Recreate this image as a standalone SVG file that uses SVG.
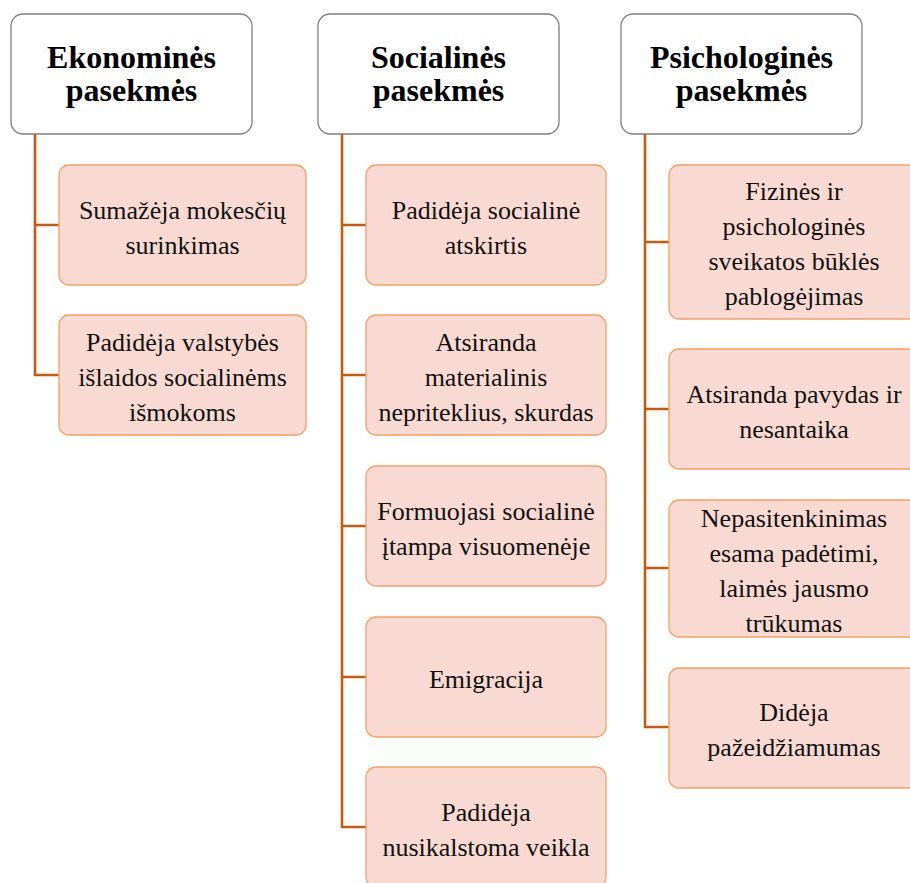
<svg xmlns="http://www.w3.org/2000/svg" width="910" height="883" viewBox="0 0 910 883">
<style>
.hdr{fill:#ffffff;stroke:#7f7f7f;stroke-width:1.3}
.ch{fill:#f8dad2;stroke:#f2a066;stroke-width:1.3}
.ht{font-family:'Liberation Serif','DejaVu Serif',serif;font-weight:bold;font-size:32px;fill:#000;text-anchor:middle}
.ct{font-family:'Liberation Serif','DejaVu Serif',serif;font-size:26px;fill:#111;text-anchor:middle}
.cn{fill:none;stroke:#c55a11;stroke-width:2.6}
</style>
<rect width="910" height="883" fill="#ffffff"/>
<g id="connectors">
<path class="cn" d="M35 134V375H59M35 225H59"/>
<path class="cn" d="M342 134V827H366M342 225H366M342 375H366M342 526H366M342 677H366"/>
<path class="cn" d="M645 134V727H669M645 242H669M645 409H669M645 568H669"/>
</g>
<g id="h1"><rect class="hdr" x="11" y="14" width="241" height="120" rx="12"/><text class="ht" x="131.5" y="68">Ekonominės</text><text class="ht" x="131.5" y="101">pasekmės</text></g>
<g id="h2"><rect class="hdr" x="318" y="14" width="241" height="120" rx="12"/><text class="ht" x="438.5" y="68">Socialinės</text><text class="ht" x="438.5" y="101">pasekmės</text></g>
<g id="h3"><rect class="hdr" x="621" y="14" width="241" height="120" rx="12"/><text class="ht" x="741.5" y="68">Psichologinės</text><text class="ht" x="741.5" y="101">pasekmės</text></g>
<g id="e1"><rect class="ch" x="59" y="165" width="247" height="120" rx="10"/><text class="ct" x="182.5" y="218.5">Sumažėja mokesčių</text><text class="ct" x="182.5" y="253.5">surinkimas</text></g>
<g id="e2"><rect class="ch" x="59" y="315" width="247" height="120" rx="10"/><text class="ct" x="182.5" y="351">Padidėja valstybės</text><text class="ct" x="182.5" y="386">išlaidos socialinėms</text><text class="ct" x="182.5" y="421">išmokoms</text></g>
<g id="s1"><rect class="ch" x="366" y="165" width="240" height="120" rx="10"/><text class="ct" x="486" y="218.5">Padidėja socialinė</text><text class="ct" x="486" y="253.5">atskirtis</text></g>
<g id="s2"><rect class="ch" x="366" y="315" width="240" height="120" rx="10"/><text class="ct" x="486" y="351">Atsiranda</text><text class="ct" x="486" y="386">materialinis</text><text class="ct" x="486" y="421">nepriteklius, skurdas</text></g>
<g id="s3"><rect class="ch" x="366" y="466" width="240" height="120" rx="10"/><text class="ct" x="486" y="519.5">Formuojasi socialinė</text><text class="ct" x="486" y="554.5">įtampa visuomenėje</text></g>
<g id="s4"><rect class="ch" x="366" y="617" width="240" height="120" rx="10"/><text class="ct" x="486" y="688">Emigracija</text></g>
<g id="s5"><rect class="ch" x="366" y="767" width="240" height="120" rx="10"/><text class="ct" x="486" y="821">Padidėja</text><text class="ct" x="486" y="856">nusikalstoma veikla</text></g>
<g id="p1"><rect class="ch" x="669" y="165" width="250" height="154" rx="10"/><text class="ct" x="794" y="200">Fizinės ir</text><text class="ct" x="794" y="235">psichologinės</text><text class="ct" x="794" y="270">sveikatos būklės</text><text class="ct" x="794" y="305">pablogėjimas</text></g>
<g id="p2"><rect class="ch" x="669" y="349" width="250" height="120" rx="10"/><text class="ct" x="794" y="402.5">Atsiranda pavydas ir</text><text class="ct" x="794" y="437.5">nesantaika</text></g>
<g id="p3"><rect class="ch" x="669" y="500" width="250" height="137" rx="10"/><text class="ct" x="794" y="527">Nepasitenkinimas</text><text class="ct" x="794" y="562">esama padėtimi,</text><text class="ct" x="794" y="597">laimės jausmo</text><text class="ct" x="794" y="632">trūkumas</text></g>
<g id="p4"><rect class="ch" x="669" y="668" width="250" height="120" rx="10"/><text class="ct" x="794" y="721">Didėja</text><text class="ct" x="794" y="756">pažeidžiamumas</text></g>
</svg>
